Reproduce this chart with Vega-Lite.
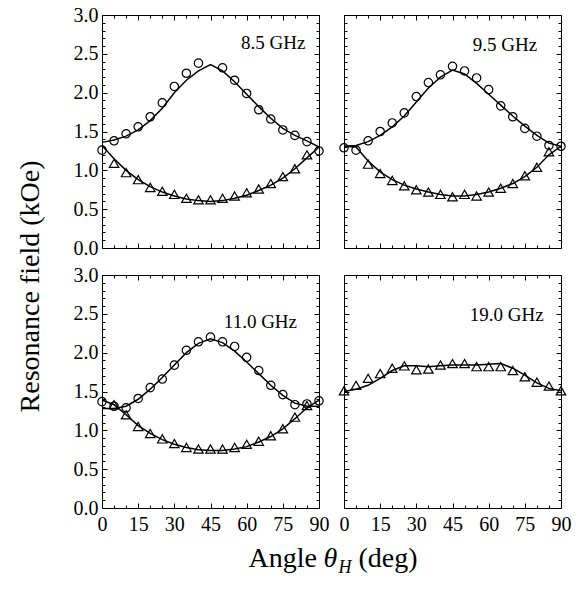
{
"$schema": "https://vega.github.io/schema/vega-lite/v6.json",
"padding": {"left": 15, "top": 5, "right": 5, "bottom": 5},
"config": {
 "view": {"stroke": null},
 "font": "Liberation Serif",
 "style": {"guide-label": {"font": "Liberation Serif", "fontSize": 20, "fill": "black"}, "guide-title": {"font": "Liberation Serif", "fontSize": 28, "fontWeight": "normal", "fill": "black"}},
 "axis": {"domainColor": "black", "domainWidth": 1, "tickColor": "black", "tickWidth": 1, "labelColor": "black", "labelFont": "Liberation Serif", "labelFontSize": 20, "titleFont": "Liberation Serif", "titleFontSize": 28, "titleFontWeight": "normal", "titleColor": "black", "grid": false, "labelFlush": false, "labelOverlap": false}
},
"datasets": {
 "pts": [
  {"freq":"8.5 GHz","series":"circle","angle":0,"field":1.26},{"freq":"8.5 GHz","series":"circle","angle":5,"field":1.38},{"freq":"8.5 GHz","series":"circle","angle":10,"field":1.47},{"freq":"8.5 GHz","series":"circle","angle":15,"field":1.56},{"freq":"8.5 GHz","series":"circle","angle":20,"field":1.69},{"freq":"8.5 GHz","series":"circle","angle":25,"field":1.87},{"freq":"8.5 GHz","series":"circle","angle":30,"field":2.08},{"freq":"8.5 GHz","series":"circle","angle":35,"field":2.25},{"freq":"8.5 GHz","series":"circle","angle":40,"field":2.38},{"freq":"8.5 GHz","series":"circle","angle":50,"field":2.32},{"freq":"8.5 GHz","series":"circle","angle":55,"field":2.16},{"freq":"8.5 GHz","series":"circle","angle":60,"field":1.99},{"freq":"8.5 GHz","series":"circle","angle":65,"field":1.78},{"freq":"8.5 GHz","series":"circle","angle":70,"field":1.66},{"freq":"8.5 GHz","series":"circle","angle":75,"field":1.52},{"freq":"8.5 GHz","series":"circle","angle":80,"field":1.45},{"freq":"8.5 GHz","series":"circle","angle":85,"field":1.37},{"freq":"8.5 GHz","series":"circle","angle":90,"field":1.25},
  {"freq":"8.5 GHz","series":"triangle","angle":5,"field":1.09},{"freq":"8.5 GHz","series":"triangle","angle":10,"field":0.97},{"freq":"8.5 GHz","series":"triangle","angle":15,"field":0.88},{"freq":"8.5 GHz","series":"triangle","angle":20,"field":0.78},{"freq":"8.5 GHz","series":"triangle","angle":25,"field":0.73},{"freq":"8.5 GHz","series":"triangle","angle":30,"field":0.69},{"freq":"8.5 GHz","series":"triangle","angle":35,"field":0.64},{"freq":"8.5 GHz","series":"triangle","angle":40,"field":0.62},{"freq":"8.5 GHz","series":"triangle","angle":45,"field":0.62},{"freq":"8.5 GHz","series":"triangle","angle":50,"field":0.64},{"freq":"8.5 GHz","series":"triangle","angle":55,"field":0.67},{"freq":"8.5 GHz","series":"triangle","angle":60,"field":0.71},{"freq":"8.5 GHz","series":"triangle","angle":65,"field":0.76},{"freq":"8.5 GHz","series":"triangle","angle":70,"field":0.83},{"freq":"8.5 GHz","series":"triangle","angle":75,"field":0.92},{"freq":"8.5 GHz","series":"triangle","angle":80,"field":1.02},{"freq":"8.5 GHz","series":"triangle","angle":85,"field":1.20},
  {"freq":"9.5 GHz","series":"circle","angle":0,"field":1.29},{"freq":"9.5 GHz","series":"circle","angle":5,"field":1.26},{"freq":"9.5 GHz","series":"circle","angle":10,"field":1.38},{"freq":"9.5 GHz","series":"circle","angle":15,"field":1.50},{"freq":"9.5 GHz","series":"circle","angle":20,"field":1.61},{"freq":"9.5 GHz","series":"circle","angle":25,"field":1.74},{"freq":"9.5 GHz","series":"circle","angle":30,"field":1.95},{"freq":"9.5 GHz","series":"circle","angle":35,"field":2.13},{"freq":"9.5 GHz","series":"circle","angle":40,"field":2.23},{"freq":"9.5 GHz","series":"circle","angle":45,"field":2.34},{"freq":"9.5 GHz","series":"circle","angle":50,"field":2.28},{"freq":"9.5 GHz","series":"circle","angle":55,"field":2.19},{"freq":"9.5 GHz","series":"circle","angle":60,"field":2.04},{"freq":"9.5 GHz","series":"circle","angle":65,"field":1.83},{"freq":"9.5 GHz","series":"circle","angle":70,"field":1.69},{"freq":"9.5 GHz","series":"circle","angle":75,"field":1.54},{"freq":"9.5 GHz","series":"circle","angle":80,"field":1.44},{"freq":"9.5 GHz","series":"circle","angle":85,"field":1.32},{"freq":"9.5 GHz","series":"circle","angle":90,"field":1.31},
  {"freq":"9.5 GHz","series":"triangle","angle":10,"field":1.08},{"freq":"9.5 GHz","series":"triangle","angle":15,"field":0.96},{"freq":"9.5 GHz","series":"triangle","angle":20,"field":0.87},{"freq":"9.5 GHz","series":"triangle","angle":25,"field":0.80},{"freq":"9.5 GHz","series":"triangle","angle":30,"field":0.75},{"freq":"9.5 GHz","series":"triangle","angle":35,"field":0.72},{"freq":"9.5 GHz","series":"triangle","angle":40,"field":0.69},{"freq":"9.5 GHz","series":"triangle","angle":45,"field":0.66},{"freq":"9.5 GHz","series":"triangle","angle":50,"field":0.69},{"freq":"9.5 GHz","series":"triangle","angle":55,"field":0.67},{"freq":"9.5 GHz","series":"triangle","angle":60,"field":0.72},{"freq":"9.5 GHz","series":"triangle","angle":65,"field":0.77},{"freq":"9.5 GHz","series":"triangle","angle":70,"field":0.83},{"freq":"9.5 GHz","series":"triangle","angle":75,"field":0.93},{"freq":"9.5 GHz","series":"triangle","angle":80,"field":1.04},{"freq":"9.5 GHz","series":"triangle","angle":85,"field":1.24},
  {"freq":"11.0 GHz","series":"circle","angle":0,"field":1.37},{"freq":"11.0 GHz","series":"circle","angle":5,"field":1.31},{"freq":"11.0 GHz","series":"circle","angle":10,"field":1.29},{"freq":"11.0 GHz","series":"circle","angle":15,"field":1.41},{"freq":"11.0 GHz","series":"circle","angle":20,"field":1.55},{"freq":"11.0 GHz","series":"circle","angle":25,"field":1.66},{"freq":"11.0 GHz","series":"circle","angle":30,"field":1.84},{"freq":"11.0 GHz","series":"circle","angle":35,"field":2.03},{"freq":"11.0 GHz","series":"circle","angle":40,"field":2.14},{"freq":"11.0 GHz","series":"circle","angle":45,"field":2.20},{"freq":"11.0 GHz","series":"circle","angle":50,"field":2.14},{"freq":"11.0 GHz","series":"circle","angle":55,"field":2.08},{"freq":"11.0 GHz","series":"circle","angle":60,"field":1.94},{"freq":"11.0 GHz","series":"circle","angle":65,"field":1.77},{"freq":"11.0 GHz","series":"circle","angle":70,"field":1.58},{"freq":"11.0 GHz","series":"circle","angle":75,"field":1.46},{"freq":"11.0 GHz","series":"circle","angle":80,"field":1.33},{"freq":"11.0 GHz","series":"circle","angle":85,"field":1.34},{"freq":"11.0 GHz","series":"circle","angle":90,"field":1.38},
  {"freq":"11.0 GHz","series":"triangle","angle":5,"field":1.33},{"freq":"11.0 GHz","series":"triangle","angle":10,"field":1.20},{"freq":"11.0 GHz","series":"triangle","angle":15,"field":1.05},{"freq":"11.0 GHz","series":"triangle","angle":20,"field":0.96},{"freq":"11.0 GHz","series":"triangle","angle":25,"field":0.89},{"freq":"11.0 GHz","series":"triangle","angle":30,"field":0.83},{"freq":"11.0 GHz","series":"triangle","angle":35,"field":0.78},{"freq":"11.0 GHz","series":"triangle","angle":40,"field":0.76},{"freq":"11.0 GHz","series":"triangle","angle":45,"field":0.76},{"freq":"11.0 GHz","series":"triangle","angle":50,"field":0.76},{"freq":"11.0 GHz","series":"triangle","angle":55,"field":0.78},{"freq":"11.0 GHz","series":"triangle","angle":60,"field":0.82},{"freq":"11.0 GHz","series":"triangle","angle":65,"field":0.86},{"freq":"11.0 GHz","series":"triangle","angle":70,"field":0.93},{"freq":"11.0 GHz","series":"triangle","angle":75,"field":1.02},{"freq":"11.0 GHz","series":"triangle","angle":80,"field":1.17},{"freq":"11.0 GHz","series":"triangle","angle":85,"field":1.32},
  {"freq":"19.0 GHz","series":"triangle","angle":0,"field":1.51},{"freq":"19.0 GHz","series":"triangle","angle":5,"field":1.58},{"freq":"19.0 GHz","series":"triangle","angle":10,"field":1.67},{"freq":"19.0 GHz","series":"triangle","angle":15,"field":1.73},{"freq":"19.0 GHz","series":"triangle","angle":20,"field":1.80},{"freq":"19.0 GHz","series":"triangle","angle":25,"field":1.83},{"freq":"19.0 GHz","series":"triangle","angle":30,"field":1.78},{"freq":"19.0 GHz","series":"triangle","angle":35,"field":1.79},{"freq":"19.0 GHz","series":"triangle","angle":40,"field":1.84},{"freq":"19.0 GHz","series":"triangle","angle":45,"field":1.86},{"freq":"19.0 GHz","series":"triangle","angle":50,"field":1.86},{"freq":"19.0 GHz","series":"triangle","angle":55,"field":1.82},{"freq":"19.0 GHz","series":"triangle","angle":60,"field":1.82},{"freq":"19.0 GHz","series":"triangle","angle":65,"field":1.82},{"freq":"19.0 GHz","series":"triangle","angle":70,"field":1.77},{"freq":"19.0 GHz","series":"triangle","angle":75,"field":1.69},{"freq":"19.0 GHz","series":"triangle","angle":80,"field":1.62},{"freq":"19.0 GHz","series":"triangle","angle":85,"field":1.57},{"freq":"19.0 GHz","series":"triangle","angle":90,"field":1.51}
 ],
 "fit": [
  {"freq":"8.5 GHz","branch":"upper","angle":0,"field":1.36},{"freq":"8.5 GHz","branch":"upper","angle":5,"field":1.39},{"freq":"8.5 GHz","branch":"upper","angle":10,"field":1.44},{"freq":"8.5 GHz","branch":"upper","angle":15,"field":1.52},{"freq":"8.5 GHz","branch":"upper","angle":20,"field":1.64},{"freq":"8.5 GHz","branch":"upper","angle":25,"field":1.80},{"freq":"8.5 GHz","branch":"upper","angle":30,"field":2.00},{"freq":"8.5 GHz","branch":"upper","angle":35,"field":2.16},{"freq":"8.5 GHz","branch":"upper","angle":40,"field":2.28},{"freq":"8.5 GHz","branch":"upper","angle":45,"field":2.36},{"freq":"8.5 GHz","branch":"upper","angle":50,"field":2.28},{"freq":"8.5 GHz","branch":"upper","angle":55,"field":2.14},{"freq":"8.5 GHz","branch":"upper","angle":60,"field":1.98},{"freq":"8.5 GHz","branch":"upper","angle":65,"field":1.82},{"freq":"8.5 GHz","branch":"upper","angle":70,"field":1.67},{"freq":"8.5 GHz","branch":"upper","angle":75,"field":1.54},{"freq":"8.5 GHz","branch":"upper","angle":80,"field":1.45},{"freq":"8.5 GHz","branch":"upper","angle":85,"field":1.38},{"freq":"8.5 GHz","branch":"upper","angle":90,"field":1.30},
  {"freq":"8.5 GHz","branch":"lower","angle":0,"field":1.32},{"freq":"8.5 GHz","branch":"lower","angle":5,"field":1.15},{"freq":"8.5 GHz","branch":"lower","angle":10,"field":1.00},{"freq":"8.5 GHz","branch":"lower","angle":15,"field":0.88},{"freq":"8.5 GHz","branch":"lower","angle":20,"field":0.79},{"freq":"8.5 GHz","branch":"lower","angle":25,"field":0.72},{"freq":"8.5 GHz","branch":"lower","angle":30,"field":0.67},{"freq":"8.5 GHz","branch":"lower","angle":35,"field":0.63},{"freq":"8.5 GHz","branch":"lower","angle":40,"field":0.61},{"freq":"8.5 GHz","branch":"lower","angle":45,"field":0.60},{"freq":"8.5 GHz","branch":"lower","angle":50,"field":0.61},{"freq":"8.5 GHz","branch":"lower","angle":55,"field":0.64},{"freq":"8.5 GHz","branch":"lower","angle":60,"field":0.68},{"freq":"8.5 GHz","branch":"lower","angle":65,"field":0.74},{"freq":"8.5 GHz","branch":"lower","angle":70,"field":0.81},{"freq":"8.5 GHz","branch":"lower","angle":75,"field":0.90},{"freq":"8.5 GHz","branch":"lower","angle":80,"field":1.02},{"freq":"8.5 GHz","branch":"lower","angle":85,"field":1.16},{"freq":"8.5 GHz","branch":"lower","angle":90,"field":1.30},
  {"freq":"9.5 GHz","branch":"upper","angle":0,"field":1.31},{"freq":"9.5 GHz","branch":"upper","angle":5,"field":1.32},{"freq":"9.5 GHz","branch":"upper","angle":10,"field":1.37},{"freq":"9.5 GHz","branch":"upper","angle":15,"field":1.45},{"freq":"9.5 GHz","branch":"upper","angle":20,"field":1.56},{"freq":"9.5 GHz","branch":"upper","angle":25,"field":1.70},{"freq":"9.5 GHz","branch":"upper","angle":30,"field":1.88},{"freq":"9.5 GHz","branch":"upper","angle":35,"field":2.06},{"freq":"9.5 GHz","branch":"upper","angle":40,"field":2.20},{"freq":"9.5 GHz","branch":"upper","angle":45,"field":2.29},{"freq":"9.5 GHz","branch":"upper","angle":50,"field":2.24},{"freq":"9.5 GHz","branch":"upper","angle":55,"field":2.12},{"freq":"9.5 GHz","branch":"upper","angle":60,"field":1.98},{"freq":"9.5 GHz","branch":"upper","angle":65,"field":1.84},{"freq":"9.5 GHz","branch":"upper","angle":70,"field":1.70},{"freq":"9.5 GHz","branch":"upper","angle":75,"field":1.57},{"freq":"9.5 GHz","branch":"upper","angle":80,"field":1.45},{"freq":"9.5 GHz","branch":"upper","angle":85,"field":1.35},{"freq":"9.5 GHz","branch":"upper","angle":90,"field":1.31},
  {"freq":"9.5 GHz","branch":"lower","angle":0,"field":1.31},{"freq":"9.5 GHz","branch":"lower","angle":5,"field":1.30},{"freq":"9.5 GHz","branch":"lower","angle":10,"field":1.12},{"freq":"9.5 GHz","branch":"lower","angle":15,"field":0.98},{"freq":"9.5 GHz","branch":"lower","angle":20,"field":0.88},{"freq":"9.5 GHz","branch":"lower","angle":25,"field":0.81},{"freq":"9.5 GHz","branch":"lower","angle":30,"field":0.76},{"freq":"9.5 GHz","branch":"lower","angle":35,"field":0.72},{"freq":"9.5 GHz","branch":"lower","angle":40,"field":0.69},{"freq":"9.5 GHz","branch":"lower","angle":45,"field":0.67},{"freq":"9.5 GHz","branch":"lower","angle":50,"field":0.67},{"freq":"9.5 GHz","branch":"lower","angle":55,"field":0.69},{"freq":"9.5 GHz","branch":"lower","angle":60,"field":0.72},{"freq":"9.5 GHz","branch":"lower","angle":65,"field":0.77},{"freq":"9.5 GHz","branch":"lower","angle":70,"field":0.83},{"freq":"9.5 GHz","branch":"lower","angle":75,"field":0.92},{"freq":"9.5 GHz","branch":"lower","angle":80,"field":1.04},{"freq":"9.5 GHz","branch":"lower","angle":85,"field":1.20},{"freq":"9.5 GHz","branch":"lower","angle":90,"field":1.31},
  {"freq":"11.0 GHz","branch":"upper","angle":0,"field":1.28},{"freq":"11.0 GHz","branch":"upper","angle":5,"field":1.28},{"freq":"11.0 GHz","branch":"upper","angle":10,"field":1.31},{"freq":"11.0 GHz","branch":"upper","angle":15,"field":1.40},{"freq":"11.0 GHz","branch":"upper","angle":20,"field":1.53},{"freq":"11.0 GHz","branch":"upper","angle":25,"field":1.68},{"freq":"11.0 GHz","branch":"upper","angle":30,"field":1.84},{"freq":"11.0 GHz","branch":"upper","angle":35,"field":2.00},{"freq":"11.0 GHz","branch":"upper","angle":40,"field":2.12},{"freq":"11.0 GHz","branch":"upper","angle":45,"field":2.18},{"freq":"11.0 GHz","branch":"upper","angle":50,"field":2.13},{"freq":"11.0 GHz","branch":"upper","angle":55,"field":2.02},{"freq":"11.0 GHz","branch":"upper","angle":60,"field":1.88},{"freq":"11.0 GHz","branch":"upper","angle":65,"field":1.73},{"freq":"11.0 GHz","branch":"upper","angle":70,"field":1.58},{"freq":"11.0 GHz","branch":"upper","angle":75,"field":1.45},{"freq":"11.0 GHz","branch":"upper","angle":80,"field":1.35},{"freq":"11.0 GHz","branch":"upper","angle":85,"field":1.31},{"freq":"11.0 GHz","branch":"upper","angle":90,"field":1.31},
  {"freq":"11.0 GHz","branch":"lower","angle":0,"field":1.39},{"freq":"11.0 GHz","branch":"lower","angle":5,"field":1.33},{"freq":"11.0 GHz","branch":"lower","angle":10,"field":1.20},{"freq":"11.0 GHz","branch":"lower","angle":15,"field":1.06},{"freq":"11.0 GHz","branch":"lower","angle":20,"field":0.96},{"freq":"11.0 GHz","branch":"lower","angle":25,"field":0.88},{"freq":"11.0 GHz","branch":"lower","angle":30,"field":0.82},{"freq":"11.0 GHz","branch":"lower","angle":35,"field":0.78},{"freq":"11.0 GHz","branch":"lower","angle":40,"field":0.75},{"freq":"11.0 GHz","branch":"lower","angle":45,"field":0.74},{"freq":"11.0 GHz","branch":"lower","angle":50,"field":0.74},{"freq":"11.0 GHz","branch":"lower","angle":55,"field":0.76},{"freq":"11.0 GHz","branch":"lower","angle":60,"field":0.79},{"freq":"11.0 GHz","branch":"lower","angle":65,"field":0.85},{"freq":"11.0 GHz","branch":"lower","angle":70,"field":0.92},{"freq":"11.0 GHz","branch":"lower","angle":75,"field":1.02},{"freq":"11.0 GHz","branch":"lower","angle":80,"field":1.15},{"freq":"11.0 GHz","branch":"lower","angle":85,"field":1.29},{"freq":"11.0 GHz","branch":"lower","angle":90,"field":1.39},
  {"freq":"19.0 GHz","branch":"single","angle":0,"field":1.50},{"freq":"19.0 GHz","branch":"single","angle":5,"field":1.53},{"freq":"19.0 GHz","branch":"single","angle":10,"field":1.58},{"freq":"19.0 GHz","branch":"single","angle":15,"field":1.67},{"freq":"19.0 GHz","branch":"single","angle":20,"field":1.77},{"freq":"19.0 GHz","branch":"single","angle":25,"field":1.83},{"freq":"19.0 GHz","branch":"single","angle":30,"field":1.83},{"freq":"19.0 GHz","branch":"single","angle":35,"field":1.82},{"freq":"19.0 GHz","branch":"single","angle":40,"field":1.83},{"freq":"19.0 GHz","branch":"single","angle":45,"field":1.84},{"freq":"19.0 GHz","branch":"single","angle":50,"field":1.84},{"freq":"19.0 GHz","branch":"single","angle":55,"field":1.84},{"freq":"19.0 GHz","branch":"single","angle":60,"field":1.85},{"freq":"19.0 GHz","branch":"single","angle":65,"field":1.86},{"freq":"19.0 GHz","branch":"single","angle":70,"field":1.80},{"freq":"19.0 GHz","branch":"single","angle":75,"field":1.71},{"freq":"19.0 GHz","branch":"single","angle":80,"field":1.61},{"freq":"19.0 GHz","branch":"single","angle":85,"field":1.54},{"freq":"19.0 GHz","branch":"single","angle":90,"field":1.51}
 ],
 "lab": [{"freq":"8.5 GHz"},{"freq":"9.5 GHz"},{"freq":"11.0 GHz"},{"freq":"19.0 GHz"}]
},
"columns": 2,
"spacing": {"row": 27, "column": 25},
"bounds": "flush",
"concat": [
 {"width": 217, "height": 233,
  "resolve": {"axis": {"x": "independent", "y": "independent"}},
  "layer": [
   {"data": {"name": "fit"}, "transform": [{"filter": "datum.freq === '8.5 GHz'"}],
    "mark": {"type": "line", "color": "black", "strokeWidth": 1.5},
    "encoding": {
     "x": {"field": "angle", "type": "quantitative", "scale": {"domain": [0, 90], "nice": false}, "axis": {"orient": "bottom", "values": [0,15,30,45,60,75,90], "tickSize": -5, "labels": false, "title": null}},
     "y": {"field": "field", "type": "quantitative", "scale": {"domain": [0, 3], "nice": false}, "axis": {"orient": "left", "values": [0,0.5,1,1.5,2,2.5,3], "tickSize": -5, "labelPadding": 9, "format": ".1f", "labelFont": "Liberation Serif", "labelFontSize": 20, "title": null}},
     "detail": {"field": "branch"}}},
   {"data": {"name": "pts"}, "transform": [{"filter": "datum.freq === '8.5 GHz' && datum.series === 'circle'"}],
    "mark": {"type": "point", "shape": "circle", "filled": false, "color": "black", "strokeWidth": 1.2, "size": 70, "opacity": 1},
    "encoding": {
     "x": {"field": "angle", "type": "quantitative", "axis": {"orient": "bottom", "values": [5,10,20,25,35,40,50,55,65,70,80,85], "tickSize": -3, "labels": false, "domain": false, "title": null}},
     "y": {"field": "field", "type": "quantitative", "axis": {"orient": "left", "values": [0.1,0.2,0.3,0.4,0.6,0.7,0.8,0.9,1.1,1.2,1.3,1.4,1.6,1.7,1.8,1.9,2.1,2.2,2.3,2.4,2.6,2.7,2.8,2.9], "tickSize": -3, "labels": false, "domain": false, "title": null}}}},
   {"data": {"name": "pts"}, "transform": [{"filter": "datum.freq === '8.5 GHz' && datum.series === 'triangle'"}],
    "mark": {"type": "point", "shape": "triangle-up", "filled": false, "color": "black", "strokeWidth": 1.2, "size": 90, "opacity": 1},
    "encoding": {
     "x": {"field": "angle", "type": "quantitative", "axis": {"orient": "top", "values": [0,15,30,45,60,75,90], "tickSize": -5, "labels": false, "title": null}},
     "y": {"field": "field", "type": "quantitative", "axis": {"orient": "right", "values": [0,0.5,1,1.5,2,2.5,3], "tickSize": -5, "labels": false, "title": null}}}},
   {"data": {"name": "lab"}, "transform": [{"filter": "datum.freq === '8.5 GHz'"}],
    "mark": {"type": "text", "font": "Liberation Serif", "fontSize": 19, "color": "black", "align": "center", "baseline": "middle"},
    "encoding": {
     "text": {"field": "freq"},
     "x": {"datum": 71, "type": "quantitative", "axis": {"orient": "top", "values": [5,10,20,25,35,40,50,55,65,70,80,85], "tickSize": -3, "labels": false, "domain": false, "title": null}},
     "y": {"datum": 2.64, "type": "quantitative", "axis": {"orient": "right", "values": [0.1,0.2,0.3,0.4,0.6,0.7,0.8,0.9,1.1,1.2,1.3,1.4,1.6,1.7,1.8,1.9,2.1,2.2,2.3,2.4,2.6,2.7,2.8,2.9], "tickSize": -3, "labels": false, "domain": false, "title": null}}}}
  ]},
 {"width": 217, "height": 233,
  "resolve": {"axis": {"x": "independent", "y": "independent"}},
  "layer": [
   {"data": {"name": "fit"}, "transform": [{"filter": "datum.freq === '9.5 GHz'"}],
    "mark": {"type": "line", "color": "black", "strokeWidth": 1.5},
    "encoding": {
     "x": {"field": "angle", "type": "quantitative", "scale": {"domain": [0, 90], "nice": false}, "axis": {"orient": "bottom", "values": [0,15,30,45,60,75,90], "tickSize": -5, "labels": false, "title": null}},
     "y": {"field": "field", "type": "quantitative", "scale": {"domain": [0, 3], "nice": false}, "axis": {"orient": "left", "values": [0,0.5,1,1.5,2,2.5,3], "tickSize": -5, "labels": false, "title": null}},
     "detail": {"field": "branch"}}},
   {"data": {"name": "pts"}, "transform": [{"filter": "datum.freq === '9.5 GHz' && datum.series === 'circle'"}],
    "mark": {"type": "point", "shape": "circle", "filled": false, "color": "black", "strokeWidth": 1.2, "size": 70, "opacity": 1},
    "encoding": {
     "x": {"field": "angle", "type": "quantitative", "axis": {"orient": "bottom", "values": [5,10,20,25,35,40,50,55,65,70,80,85], "tickSize": -3, "labels": false, "domain": false, "title": null}},
     "y": {"field": "field", "type": "quantitative", "axis": {"orient": "left", "values": [0.1,0.2,0.3,0.4,0.6,0.7,0.8,0.9,1.1,1.2,1.3,1.4,1.6,1.7,1.8,1.9,2.1,2.2,2.3,2.4,2.6,2.7,2.8,2.9], "tickSize": -3, "labels": false, "domain": false, "title": null}}}},
   {"data": {"name": "pts"}, "transform": [{"filter": "datum.freq === '9.5 GHz' && datum.series === 'triangle'"}],
    "mark": {"type": "point", "shape": "triangle-up", "filled": false, "color": "black", "strokeWidth": 1.2, "size": 90, "opacity": 1},
    "encoding": {
     "x": {"field": "angle", "type": "quantitative", "axis": {"orient": "top", "values": [0,15,30,45,60,75,90], "tickSize": -5, "labels": false, "title": null}},
     "y": {"field": "field", "type": "quantitative", "axis": {"orient": "right", "values": [0,0.5,1,1.5,2,2.5,3], "tickSize": -5, "labels": false, "title": null}}}},
   {"data": {"name": "lab"}, "transform": [{"filter": "datum.freq === '9.5 GHz'"}],
    "mark": {"type": "text", "font": "Liberation Serif", "fontSize": 19, "color": "black", "align": "center", "baseline": "middle"},
    "encoding": {
     "text": {"field": "freq"},
     "x": {"datum": 66.8, "type": "quantitative", "axis": {"orient": "top", "values": [5,10,20,25,35,40,50,55,65,70,80,85], "tickSize": -3, "labels": false, "domain": false, "title": null}},
     "y": {"datum": 2.62, "type": "quantitative", "axis": {"orient": "right", "values": [0.1,0.2,0.3,0.4,0.6,0.7,0.8,0.9,1.1,1.2,1.3,1.4,1.6,1.7,1.8,1.9,2.1,2.2,2.3,2.4,2.6,2.7,2.8,2.9], "tickSize": -3, "labels": false, "domain": false, "title": null}}}}
  ]},
 {"width": 217, "height": 233,
  "resolve": {"axis": {"x": "independent", "y": "independent"}},
  "layer": [
   {"data": {"name": "fit"}, "transform": [{"filter": "datum.freq === '11.0 GHz'"}],
    "mark": {"type": "line", "color": "black", "strokeWidth": 1.5},
    "encoding": {
     "x": {"field": "angle", "type": "quantitative", "scale": {"domain": [0, 90], "nice": false}, "axis": {"orient": "bottom", "values": [0,15,30,45,60,75,90], "tickSize": -5, "labelPadding": 11, "format": "d", "labelFont": "Liberation Serif", "labelFontSize": 20, "title": "Angle", "titleFont": "Liberation Serif", "titleFontSize": 28, "titleFontWeight": "normal", "titleX": 146, "titleY": 58, "titleAlign": "left", "titleBaseline": "alphabetic", "titleAngle": 0}},
     "y": {"field": "field", "type": "quantitative", "scale": {"domain": [0, 3], "nice": false}, "axis": {"orient": "left", "values": [0,0.5,1,1.5,2,2.5,3], "tickSize": -5, "labelPadding": 9, "format": ".1f", "labelFont": "Liberation Serif", "labelFontSize": 20, "title": "Resonance field (kOe)", "titleFont": "Liberation Serif", "titleFontSize": 28, "titleFontWeight": "normal", "titleX": -64, "titleY": 11, "titleAngle": 270, "titleAlign": "center", "titleBaseline": "alphabetic"}},
     "detail": {"field": "branch"}}},
   {"data": {"name": "pts"}, "transform": [{"filter": "datum.freq === '11.0 GHz' && datum.series === 'circle'"}],
    "mark": {"type": "point", "shape": "circle", "filled": false, "color": "black", "strokeWidth": 1.2, "size": 70, "opacity": 1},
    "encoding": {
     "x": {"field": "angle", "type": "quantitative", "axis": {"orient": "bottom", "values": [5,10,20,25,35,40,50,55,65,70,80,85], "tickSize": -3, "labels": false, "domain": false, "title": "θ", "titleFont": "Liberation Serif", "titleFontSize": 28, "titleFontWeight": "normal", "titleFontStyle": "italic", "titleX": 221, "titleY": 58, "titleAlign": "left", "titleBaseline": "alphabetic", "titleAngle": 0}},
     "y": {"field": "field", "type": "quantitative", "axis": {"orient": "left", "values": [0.1,0.2,0.3,0.4,0.6,0.7,0.8,0.9,1.1,1.2,1.3,1.4,1.6,1.7,1.8,1.9,2.1,2.2,2.3,2.4,2.6,2.7,2.8,2.9], "tickSize": -3, "labels": false, "domain": false, "title": null}}}},
   {"data": {"name": "pts"}, "transform": [{"filter": "datum.freq === '11.0 GHz' && datum.series === 'triangle'"}],
    "mark": {"type": "point", "shape": "triangle-up", "filled": false, "color": "black", "strokeWidth": 1.2, "size": 90, "opacity": 1},
    "encoding": {
     "x": {"field": "angle", "type": "quantitative", "axis": {"orient": "top", "values": [0,15,30,45,60,75,90], "tickSize": -5, "labels": false, "title": null}},
     "y": {"field": "field", "type": "quantitative", "axis": {"orient": "right", "values": [0,0.5,1,1.5,2,2.5,3], "tickSize": -5, "labels": false, "title": null}}}},
   {"data": {"name": "lab"}, "transform": [{"filter": "datum.freq === '11.0 GHz'"}],
    "mark": {"type": "text", "font": "Liberation Serif", "fontSize": 19, "color": "black", "align": "center", "baseline": "middle"},
    "encoding": {
     "text": {"field": "freq"},
     "x": {"datum": 65.7, "type": "quantitative", "axis": {"orient": "top", "values": [5,10,20,25,35,40,50,55,65,70,80,85], "tickSize": -3, "labels": false, "domain": false, "title": null}},
     "y": {"datum": 2.39, "type": "quantitative", "axis": {"orient": "right", "values": [0.1,0.2,0.3,0.4,0.6,0.7,0.8,0.9,1.1,1.2,1.3,1.4,1.6,1.7,1.8,1.9,2.1,2.2,2.3,2.4,2.6,2.7,2.8,2.9], "tickSize": -3, "labels": false, "domain": false, "title": null}}}}
  ]},
 {"width": 217, "height": 233,
  "resolve": {"axis": {"x": "independent", "y": "independent"}},
  "layer": [
   {"data": {"name": "fit"}, "transform": [{"filter": "datum.freq === '19.0 GHz'"}],
    "mark": {"type": "line", "color": "black", "strokeWidth": 1.5},
    "encoding": {
     "x": {"field": "angle", "type": "quantitative", "scale": {"domain": [0, 90], "nice": false}, "axis": {"orient": "bottom", "values": [0,15,30,45,60,75,90], "tickSize": -5, "labelPadding": 11, "format": "d", "labelFont": "Liberation Serif", "labelFontSize": 20, "title": "H", "titleFont": "Liberation Serif", "titleFontWeight": "normal", "titleFontStyle": "italic", "titleFontSize": 18, "titleX": -6, "titleY": 64, "titleAlign": "left", "titleBaseline": "alphabetic", "titleAngle": 0}},
     "y": {"field": "field", "type": "quantitative", "scale": {"domain": [0, 3], "nice": false}, "axis": {"orient": "left", "values": [0,0.5,1,1.5,2,2.5,3], "tickSize": -5, "labels": false, "title": null}},
     "detail": {"field": "branch"}}},
   {"data": {"name": "pts"}, "transform": [{"filter": "datum.freq === '19.0 GHz' && datum.series === 'triangle'"}],
    "mark": {"type": "point", "shape": "triangle-up", "filled": false, "color": "black", "strokeWidth": 1.2, "size": 90, "opacity": 1},
    "encoding": {
     "x": {"field": "angle", "type": "quantitative", "axis": {"orient": "bottom", "values": [5,10,20,25,35,40,50,55,65,70,80,85], "tickSize": -3, "labels": false, "domain": false, "title": "(deg)", "titleFont": "Liberation Serif", "titleFontSize": 28, "titleFontWeight": "normal", "titleX": 14, "titleY": 58, "titleAlign": "left", "titleBaseline": "alphabetic", "titleAngle": 0}},
     "y": {"field": "field", "type": "quantitative", "axis": {"orient": "left", "values": [0.1,0.2,0.3,0.4,0.6,0.7,0.8,0.9,1.1,1.2,1.3,1.4,1.6,1.7,1.8,1.9,2.1,2.2,2.3,2.4,2.6,2.7,2.8,2.9], "tickSize": -3, "labels": false, "domain": false, "title": null}}}},
   {"data": {"name": "fit"}, "transform": [{"filter": "datum.freq === '19.0 GHz'"}],
    "mark": {"type": "line", "color": "black", "strokeWidth": 0, "opacity": 0},
    "encoding": {
     "x": {"field": "angle", "type": "quantitative", "axis": {"orient": "top", "values": [0,15,30,45,60,75,90], "tickSize": -5, "labels": false, "title": null}},
     "y": {"field": "field", "type": "quantitative", "axis": {"orient": "right", "values": [0,0.5,1,1.5,2,2.5,3], "tickSize": -5, "labels": false, "title": null}}}},
   {"data": {"name": "lab"}, "transform": [{"filter": "datum.freq === '19.0 GHz'"}],
    "mark": {"type": "text", "font": "Liberation Serif", "fontSize": 19, "color": "black", "align": "center", "baseline": "middle"},
    "encoding": {
     "text": {"field": "freq"},
     "x": {"datum": 67.5, "type": "quantitative", "axis": {"orient": "top", "values": [5,10,20,25,35,40,50,55,65,70,80,85], "tickSize": -3, "labels": false, "domain": false, "title": null}},
     "y": {"datum": 2.48, "type": "quantitative", "axis": {"orient": "right", "values": [0.1,0.2,0.3,0.4,0.6,0.7,0.8,0.9,1.1,1.2,1.3,1.4,1.6,1.7,1.8,1.9,2.1,2.2,2.3,2.4,2.6,2.7,2.8,2.9], "tickSize": -3, "labels": false, "domain": false, "title": null}}}}
  ]}
]
}
